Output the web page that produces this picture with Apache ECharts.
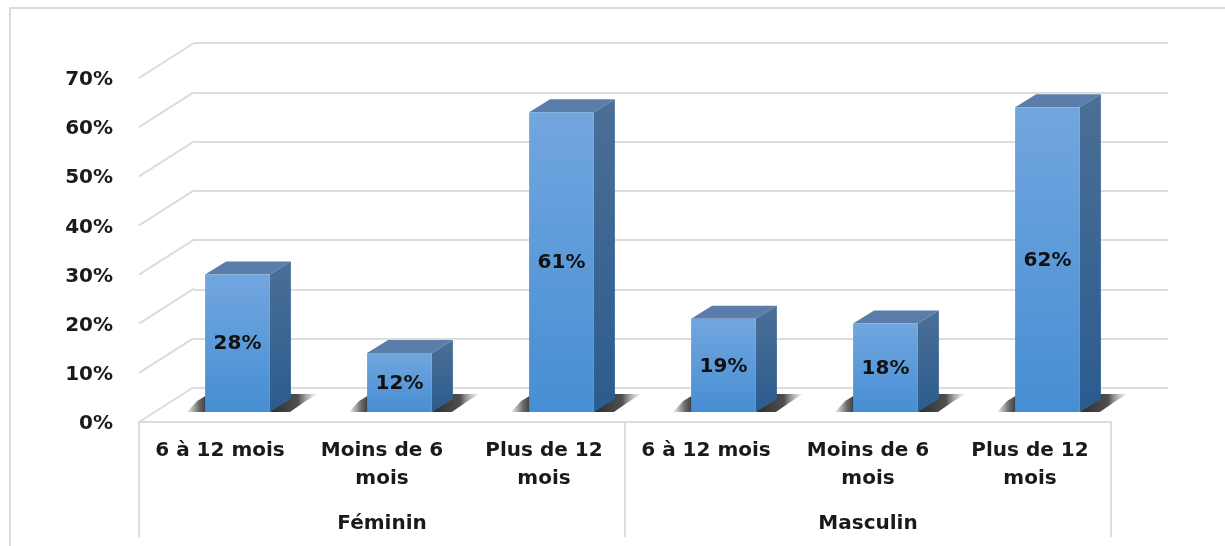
<!DOCTYPE html>
<html>
<head>
<meta charset="utf-8">
<style>
html, body { margin: 0; padding: 0; background: #fff; }
#chart { width: 1225px; height: 546px; }
</style>
<script src="https://cdn.jsdelivr.net/npm/echarts@6/dist/echarts.min.js"></script>
</head>
<body>
<div id="chart"></div>
<script>
var categories = ['6 à 12 mois', 'Moins de 6\nmois', 'Plus de 12\nmois', '6 à 12 mois', 'Moins de 6\nmois', 'Plus de 12\nmois'];
var groups = ['Féminin', 'Masculin'];
var values = [28, 12, 61, 19, 18, 62];
var yTicks = [0, 10, 20, 30, 40, 50, 60, 70];

var fontName = '"DejaVu Sans", sans-serif';
var gridColor = '#dcdcdc';
var textColor = '#1a1a1a';

// faux 3D : decalages entre le plan avant, les barres et le mur du fond
var wallDx = 55, wallDy = -35;
var barDx = 17.5, barDy = -10;
var sideDx = 21, sideDy = -13;

function vGrad(a, b) {
    return { type: 'linear', x: 0, y: 0, x2: 0, y2: 1, colorStops: [{ offset: 0, color: a }, { offset: 1, color: b }] };
}

function renderBar(params, api) {
    var top = api.coord([api.value(0), api.value(1)]);
    var base = api.coord([api.value(0), 0]);
    var w = api.size([1, 0])[0] * 0.4;
    var L = top[0] + barDx - w / 2, R = L + w;
    var T = top[1] + barDy, B = base[1] + barDy;
    return {
        type: 'group',
        children: [
            // ombres au sol
            { type: 'polygon', shape: { points: [[L - 18, B], [L - 8, B - 11], [L + 2, B - 17], [L + 2, B]] },
              style: { fill: { type: 'linear', x: 0, y: 0, x2: 1, y2: 0, colorStops: [
                  { offset: 0, color: 'rgba(80,80,80,0.1)' }, { offset: 0.6, color: 'rgba(70,70,70,0.8)' }, { offset: 1, color: 'rgba(50,50,50,1)' }] } } },
            { type: 'polygon', shape: { points: [[R, B], [R + 21, B - 18], [R + 47, B - 18], [R + 33, B - 9], [R + 20, B]] },
              style: { fill: { type: 'linear', x: 0, y: 0, x2: 1, y2: 0, colorStops: [
                  { offset: 0, color: 'rgba(45,45,45,1)' }, { offset: 0.6, color: 'rgba(70,70,70,0.95)' }, { offset: 1, color: 'rgba(150,150,150,0.1)' }] } } },
            { type: 'polygon', shape: { points: [[L, T], [L + sideDx, T + sideDy], [R + sideDx, T + sideDy], [R, T]] },
              style: { fill: '#5a7ea9' } },
            { type: 'polygon', shape: { points: [[R, T], [R + sideDx, T + sideDy], [R + sideDx, B + sideDy], [R, B]] },
              style: { fill: vGrad('#4b6f97', '#2b5c8e') } },
            { type: 'rect', shape: { x: L, y: T, width: w, height: B - T },
              style: { fill: vGrad('#72a6df', '#468ed3') } },
            { type: 'text', style: { x: (L + R) / 2, y: (T + B) / 2 + 1, text: api.value(1) + '%', align: 'center', verticalAlign: 'middle',
              font: '700 20px ' + fontName, fill: '#111' } }
        ]
    };
}

function renderDiagonal(params, api) {
    var p = api.coord([0, api.value(0)]);
    var x0 = p[0] - api.size([1, 0])[0] / 2;
    return {
        type: 'line',
        shape: { x1: x0, y1: p[1], x2: x0 + wallDx, y2: p[1] + wallDy },
        style: { stroke: gridColor, lineWidth: 2 }
    };
}

var chart = echarts.init(document.getElementById('chart'), null, { renderer: 'canvas' });
chart.setOption({
    animation: false,
    backgroundColor: '#fff',
    graphic: [{
        type: 'polyline',
        shape: { points: [[10, 546], [10, 8], [1225, 8]] },
        style: { stroke: gridColor, lineWidth: 2, fill: 'none' },
        silent: true
    }],
    grid: [
        { left: 139, top: 78, width: 972, height: 344 },
        { left: 194, top: 43, width: 974, height: 345 }
    ],
    xAxis: [
        {
            type: 'category', gridIndex: 0, data: categories,
            axisLine: { lineStyle: { color: gridColor, width: 2 } },
            axisTick: { show: false },
            axisLabel: { interval: 0, margin: 15, color: textColor, fontFamily: fontName, fontWeight: 700, fontSize: 20, lineHeight: 28 }
        },
        {
            type: 'category', gridIndex: 0, position: 'bottom', data: groups,
            axisLine: { show: false },
            axisTick: { show: true, length: 115, lineStyle: { color: gridColor, width: 2 } },
            axisLabel: { interval: 0, margin: 92, color: textColor, fontFamily: fontName, fontWeight: 700, fontSize: 20 }
        },
        { type: 'category', gridIndex: 1, data: categories, show: false }
    ],
    yAxis: [
        {
            type: 'value', gridIndex: 0, min: 0, max: 70, interval: 10,
            axisLine: { show: false }, axisTick: { show: false }, splitLine: { show: false },
            axisLabel: { margin: 26, verticalAlign: 'top', lineHeight: 4, formatter: '{value}%', color: textColor, fontFamily: fontName, fontWeight: 700, fontSize: 20 }
        },
        {
            type: 'value', gridIndex: 1, min: 0, max: 70, interval: 10,
            axisLine: { show: false }, axisTick: { show: false }, axisLabel: { show: false },
            splitLine: { show: true, lineStyle: { color: gridColor, width: 2 } }
        }
    ],
    series: [
        {
            type: 'custom', xAxisIndex: 0, yAxisIndex: 0, clip: false, silent: true,
            data: yTicks.map(function (v) { return [v]; }),
            encode: { y: 0 },
            renderItem: renderDiagonal
        },
        {
            type: 'custom', xAxisIndex: 0, yAxisIndex: 0, clip: false, silent: true,
            data: values.map(function (v, i) { return [i, v]; }),
            encode: { x: 0, y: 1 },
            renderItem: renderBar
        }
    ]
});
</script>
</body>
</html>
